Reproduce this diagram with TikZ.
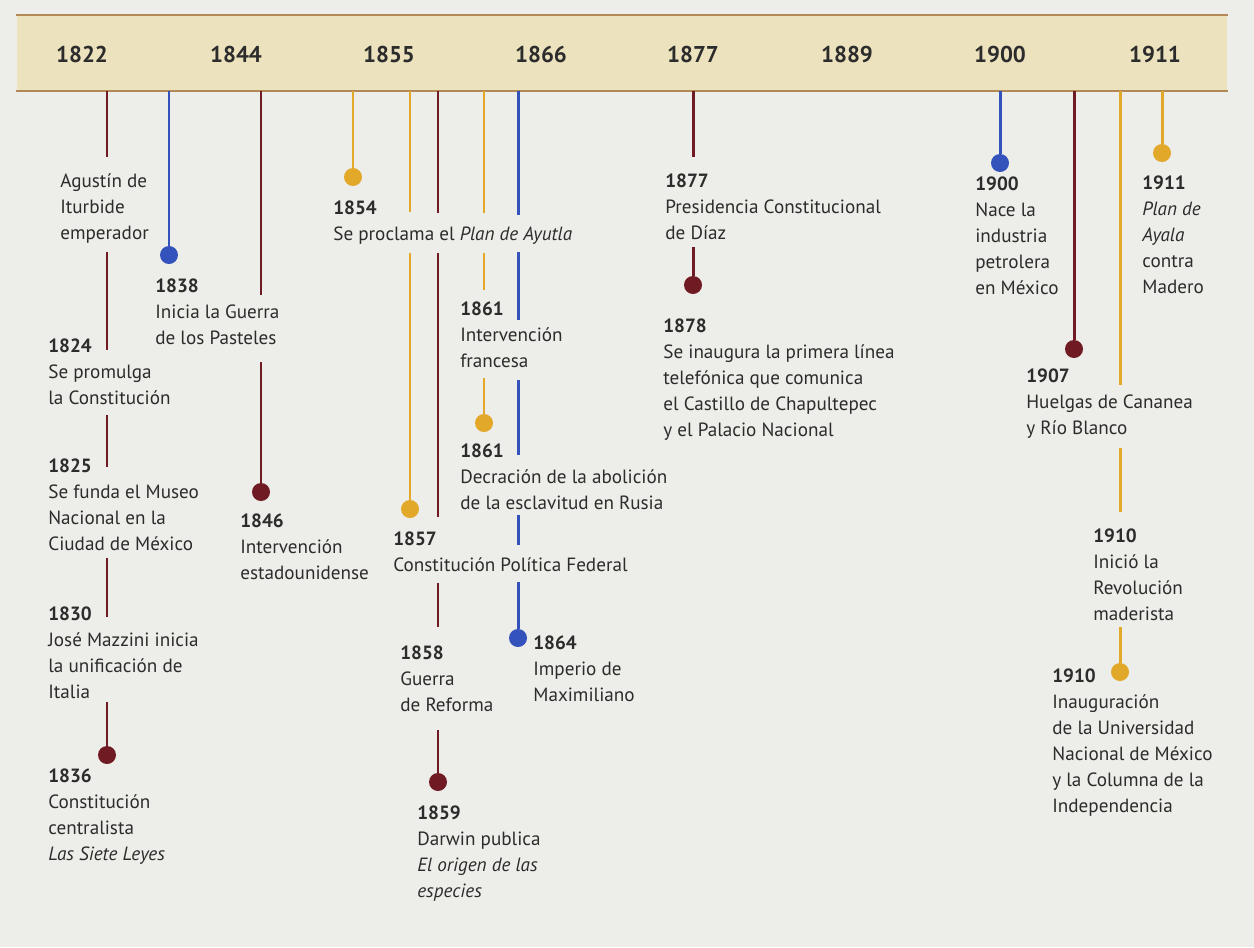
\documentclass[tikz,border=0pt]{standalone}
\usepackage{fontspec}
\setmainfont{PT Sans}
\usetikzlibrary{positioning, calc}
\definecolor{tlRed}{RGB}{112,26,36}
\definecolor{tlBlue}{RGB}{52,82,188}
\definecolor{tlGold}{RGB}{226,168,42}
\definecolor{tlText}{RGB}{44,44,44}
\definecolor{tlPaper}{RGB}{237,237,233}
\definecolor{tlBar}{RGB}{236,226,190}
\definecolor{tlEdge}{RGB}{178,136,86}

\begin{document}
\begin{tikzpicture}[x=0.02cm, y=-0.02cm,
    evt/.style={anchor=north west, align=left, inner sep=0pt, text=tlText, font=\fontsize{10.9}{14.8}\selectfont},
    yr/.style={text=tlText, font=\bfseries\fontsize{13}{15}\selectfont},
    lnr/.style={draw=tlRed, line width=1.7pt},
    lnb/.style={draw=tlBlue, line width=1.7pt},
    lng/.style={draw=tlGold, line width=1.7pt},
    dotr/.style={circle, fill=tlRed, minimum size=0.36cm, inner sep=0pt},
    dotb/.style={circle, fill=tlBlue, minimum size=0.36cm, inner sep=0pt},
    dotg/.style={circle, fill=tlGold, minimum size=0.36cm, inner sep=0pt}]
  \useasboundingbox (0,0) rectangle (1254,947);
  \fill[tlPaper] (0,0) rectangle (1254,947);

  % year bar
  \node[fill=tlBar, minimum width=24.22cm, minimum height=1.5cm, inner sep=0pt] (bar) at (622,53) {};
  \draw[tlEdge, line width=1.4pt] (bar.north west) -- (bar.north east) (bar.south west) -- (bar.south east);
  \node[yr] (y1822) at (82,55) {1822};
  \node[yr] (y1844) at (236,55) {1844};
  \node[yr] (y1855) at (389,55) {1855};
  \node[yr] (y1866) at (541,55) {1866};
  \node[yr] (y1877) at (693,55) {1877};
  \node[yr] (y1889) at (847,55) {1889};
  \node[yr] (y1900) at (1000,55) {1900};
  \node[yr] (y1911) at (1155,55) {1911};

  % events
  \node[evt] (t1822) at (60,173) {Agustín de\\Iturbide\\emperador};
  \node[evt] (t1824) at (48,338) {\textbf{1824}\\Se promulga\\la Constitución};
  \node[evt] (t1825) at (48,458) {\textbf{1825}\\Se funda el Museo\\Nacional en la\\Ciudad de México};
  \node[evt] (t1830) at (48,606) {\textbf{1830}\\José Mazzini inicia\\la unificación de\\Italia};
  \node[evt] (t1836) at (48,768) {\textbf{1836}\\Constitución\\centralista\\\textit{Las Siete Leyes}};
  \node[evt] (t1838) at (155,278) {\textbf{1838}\\Inicia la Guerra\\de los Pasteles};
  \node[evt] (t1846) at (240,513) {\textbf{1846}\\Intervención\\estadounidense};
  \node[evt] (t1854) at (333,200) {\textbf{1854}\\Se proclama el \textit{Plan de Ayutla}};
  \node[evt] (t1857) at (393,531) {\textbf{1857}\\Constitución Política Federal};
  \node[evt] (t1858) at (400,645) {\textbf{1858}\\Guerra\\de Reforma};
  \node[evt] (t1859) at (417,805) {\textbf{1859}\\Darwin publica\\\textit{El origen de las}\\\textit{especies}};
  \node[evt] (t1861a) at (460,301) {\textbf{1861}\\Intervención\\francesa};
  \node[evt] (t1861b) at (460,443) {\textbf{1861}\\Decración de la abolición\\de la esclavitud en Rusia};
  \node[evt] (t1864) at (533,635) {\textbf{1864}\\Imperio de\\Maximiliano};
  \node[evt] (t1877) at (665,173) {\textbf{1877}\\Presidencia Constitucional\\de Díaz};
  \node[evt] (t1878) at (663,318) {\textbf{1878}\\Se inaugura la primera línea\\telefónica que comunica\\el Castillo de Chapultepec\\y el Palacio Nacional};
  \node[evt] (t1900) at (975,176) {\textbf{1900}\\Nace la\\industria\\petrolera\\en México};
  \node[evt] (t1907) at (1026,368) {\textbf{1907}\\Huelgas de Cananea\\y Río Blanco};
  \node[evt] (t1910a) at (1093,528) {\textbf{1910}\\Inició la\\Revolución\\maderista};
  \node[evt] (t1910b) at (1052,668) {\textbf{1910}\\Inauguración\\de la Universidad\\Nacional de México\\y la Columna de la\\Independencia};
  \node[evt] (t1911) at (1142,175) {\textbf{1911}\\\textit{Plan de}\\\textit{Ayala}\\contra\\Madero};

  % end points of the broken lines
  \coordinate (ra1) at (107,157); \coordinate (ra2) at (107,252);
  \coordinate (ra3) at (107,350); \coordinate (ra4) at (107,415);
  \coordinate (ra5) at (107,467); \coordinate (ra6) at (107,558);
  \coordinate (ra7) at (107,617); \coordinate (ra8) at (107,702);
  \coordinate (rc1) at (261,295); \coordinate (rc2) at (261,362);
  \coordinate (ge1) at (410,212); \coordinate (ge2) at (410,253);
  \coordinate (rf1) at (438,213); \coordinate (rf2) at (438,253);
  \coordinate (rf3) at (438,517); \coordinate (rf4) at (438,583);
  \coordinate (rf5) at (438,627); \coordinate (rf6) at (438,730);
  \coordinate (gg1) at (484,213); \coordinate (gg2) at (484,253);
  \coordinate (gg3) at (484,290); \coordinate (gg4) at (484,378);
  \coordinate (bh1) at (518,215); \coordinate (bh2) at (518,252);
  \coordinate (bh3) at (518,320); \coordinate (bh4) at (518,380);
  \coordinate (bh5) at (518,455); \coordinate (bh6) at (518,515);
  \coordinate (bh7) at (518,545); \coordinate (bh8) at (518,582);
  \coordinate (ri1) at (693,157); \coordinate (ri2) at (693,247);
  \coordinate (gl1) at (1120,385); \coordinate (gl2) at (1120,448);
  \coordinate (gl3) at (1120,512); \coordinate (gl4) at (1120,627);

  \node[dotr] (d1836) at (107,755) {};
  \node[dotb] (d1838) at (169,255) {};
  \node[dotr] (d1846) at (261,492) {};
  \node[dotg] (d1854) at (353,177) {};
  \node[dotg] (d1857) at (410,509) {};
  \node[dotr] (d1859) at (438,782) {};
  \node[dotg] (d1861) at (484,423) {};
  \node[dotb] (d1864) at (518,638) {};
  \node[dotr] (d1878) at (693,285) {};
  \node[dotb] (d1900) at (1000,163) {};
  \node[dotr] (d1907) at (1074,349) {};
  \node[dotg] (d1910) at (1120,672) {};
  \node[dotg] (d1911) at (1162,153) {};

  \draw[lnr] (bar.south -| ra1) -- (ra1) (ra2) -- (ra3) (ra4) -- (ra5) (ra6) -- (ra7) (ra8) -- (d1836);
  \draw[lnb] (bar.south -| d1838) -- (d1838);
  \draw[lnr] (bar.south -| rc1) -- (rc1) (rc2) -- (d1846);
  \draw[lng] (bar.south -| d1854) -- (d1854);
  \draw[lng] (bar.south -| ge1) -- (ge1) (ge2) -- (d1857);
  \draw[lnr] (bar.south -| rf1) -- (rf1) (rf2) -- (rf3) (rf4) -- (rf5) (rf6) -- (d1859);
  \draw[lng] (bar.south -| gg1) -- (gg1) (gg2) -- (gg3) (gg4) -- (d1861);
  \draw[lnb] (bar.south -| bh1) -- (bh1) (bh2) -- (bh3) (bh4) -- (bh5) (bh6) -- (bh7) (bh8) -- (d1864);
  \draw[lnr] (bar.south -| ri1) -- (ri1) (ri2) -- (d1878);
  \draw[lnb] (bar.south -| d1900) -- (d1900);
  \draw[lnr] (bar.south -| d1907) -- (d1907);
  \draw[lng] (bar.south -| gl1) -- (gl1) (gl2) -- (gl3) (gl4) -- (d1910);
  \draw[lng] (bar.south -| d1911) -- (d1911);
\end{tikzpicture}
\end{document}
